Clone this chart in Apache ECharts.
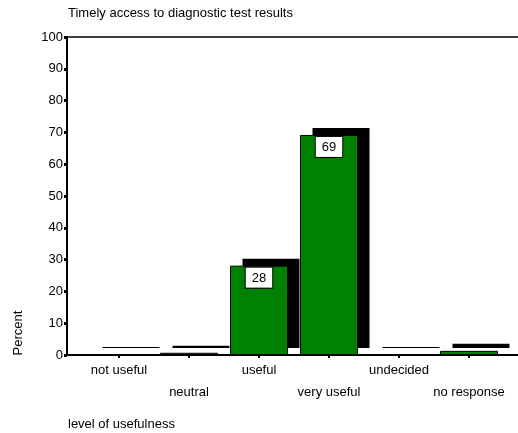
<!DOCTYPE html>
<html>
<head>
<meta charset="utf-8">
<script src="https://cdn.jsdelivr.net/npm/echarts@6/dist/echarts.min.js"></script>
<style>html,body{margin:0;padding:0;background:#fff;}#c{width:518px;height:433px;}</style>
</head>
<body>
<div id="c"></div>
<script>
var categories = ['not useful', 'neutral', 'useful', 'very useful', 'undecided', 'no response'];
var percentValues = [0.3, 0.7, 28.1, 69.2, 0.3, 1.3];
var yTicks = [0, 10, 20, 30, 40, 50, 60, 70, 80, 90, 100];
var titleText = 'Timely access to diagnostic test results';
var xAxisTitle = 'level of usefulness';
var yAxisTitle = 'Percent';

var FONT = 'Liberation Sans, Arial, sans-serif';
var chart = echarts.init(document.getElementById('c'), null, {renderer: 'canvas'});
var gTop = 37, gBottom = 78;
var greenData = percentValues.map(function (v) {
  return {value: v, label: {show: v >= 5}};
});
var option = {
  animation: false,
  backgroundColor: '#ffffff',
  textStyle: {fontFamily: FONT},
  grid: [
    {left: 67, right: 0, top: gTop, bottom: gBottom},
    {left: 84, width: 420, top: gTop, bottom: gBottom},
    {left: 96, width: 420, top: gTop - 7, bottom: gBottom + 7}
  ],
  xAxis: [
    {gridIndex: 0, type: 'value', min: 0, max: 1, position: 'bottom',
     axisLine: {show: true, lineStyle: {color: '#000', width: 2}}, axisTick: {show: false},
     axisLabel: {show: false}, splitLine: {show: false}},
    {gridIndex: 0, type: 'value', min: 0, max: 1, position: 'top',
     axisLine: {show: true, lineStyle: {color: '#000', width: 1.5}}, axisTick: {show: false},
     axisLabel: {show: false}, splitLine: {show: false}},
    {gridIndex: 1, type: 'category', data: categories,
     axisLine: {show: false},
     axisTick: {show: true, alignWithLabel: true, length: 3, lineStyle: {color: '#000', width: 2}},
     axisLabel: {show: true, interval: 0, margin: 4, color: '#000', fontSize: 13, fontFamily: FONT, lineHeight: 22,
       formatter: function (v) { var i = categories.indexOf(v); return (i % 2 === 1 ? '\n' : '') + v; }}},
    {gridIndex: 2, type: 'category', data: categories, show: false}
  ],
  yAxis: [
    {gridIndex: 0, type: 'value', min: 0, max: 100, interval: 10,
     axisLine: {show: true, lineStyle: {color: '#000', width: 2}},
     axisTick: {show: true, length: 3, lineStyle: {color: '#000', width: 3}},
     axisLabel: {color: '#000', fontSize: 13, fontFamily: FONT, margin: 4,
       formatter: function (v) { return yTicks.indexOf(v) >= 0 ? String(v) : ''; }},
     splitLine: {show: false}},
    {gridIndex: 1, type: 'value', min: 0, max: 100, show: false, splitLine: {show: false}},
    {gridIndex: 2, type: 'value', min: 0, max: 100, show: false, splitLine: {show: false}}
  ],
  series: [
    {type: 'bar', xAxisIndex: 3, yAxisIndex: 2, data: percentValues, barWidth: 57, z: 1,
     itemStyle: {color: '#000'}, barMinHeight: 1},
    {type: 'bar', xAxisIndex: 2, yAxisIndex: 1, data: greenData, barWidth: 58, z: 3,
     itemStyle: {color: '#008000', borderColor: '#000', borderWidth: 1},
     label: {position: 'insideTop', distance: 2, color: '#000', fontSize: 13, fontFamily: FONT,
       backgroundColor: '#fff', borderColor: '#000', borderWidth: 1, padding: [4, 6, 3, 6],
       formatter: function (p) { return String(Math.round(p.value)); }}}
  ],
  graphic: [
    {type: 'text', left: 68, top: 7, style: {text: titleText, fill: '#000', font: '13px ' + FONT}},
    {type: 'text', left: 68, top: 418, style: {text: xAxisTitle, fill: '#000', font: '13px ' + FONT}},
    {type: 'text', x: 18, y: 333, rotation: Math.PI / 2,
     style: {text: yAxisTitle, fill: '#000', font: '13px ' + FONT, align: 'center', verticalAlign: 'middle'}}
  ]
};
chart.setOption(option);
</script>
</body>
</html>
